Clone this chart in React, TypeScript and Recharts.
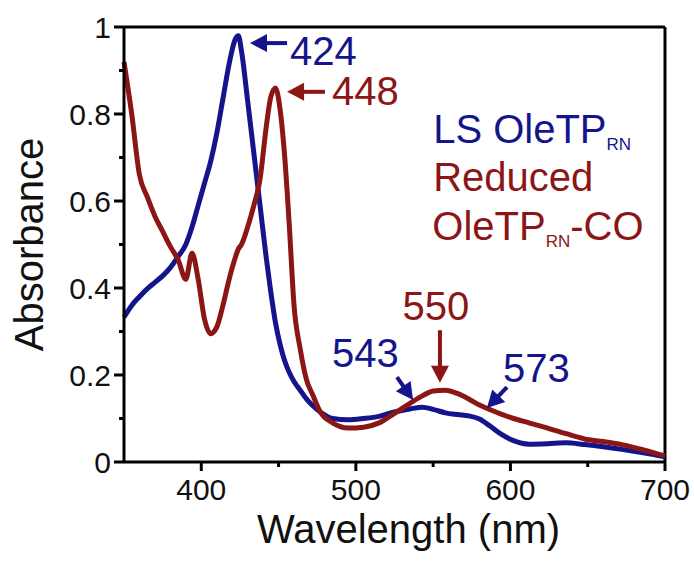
import { LineChart, Line, XAxis, YAxis, ReferenceLine, ReferenceDot } from "recharts";

const BLUE = "#14148c";
const RED = "#8c1616";
const FONT = "'Liberation Sans', Arial, sans-serif";

// wavelength grid (nm)
const wavelengths = [
  350, 355, 360, 365, 370, 375, 380, 385, 390, 394, 398, 402, 406, 410, 414, 418,
  422, 424, 426, 430, 434, 438, 442, 445, 448, 451, 454, 457, 460, 464, 468, 472,
  477, 485, 495, 505, 515, 525, 535, 543, 550, 558, 566, 573, 580, 587, 594, 602,
  612, 624, 636, 648, 660, 672, 686, 700,
];

// LS OleTP_RN
const lsOleTP = [
  0.333, 0.36, 0.38, 0.398, 0.413, 0.428, 0.447, 0.472, 0.5, 0.54, 0.59, 0.64, 0.69, 0.755, 0.835, 0.915,
  0.972, 0.98, 0.945, 0.83, 0.71, 0.59, 0.47, 0.39, 0.32, 0.27, 0.232, 0.205, 0.185, 0.165, 0.145, 0.13,
  0.115, 0.1, 0.097, 0.1, 0.105, 0.115, 0.122, 0.126, 0.121, 0.113, 0.109, 0.106, 0.099, 0.082, 0.064, 0.049,
  0.041, 0.042, 0.044, 0.04, 0.035, 0.029, 0.021, 0.012,
];

// Reduced OleTP_RN-CO
const reducedCO = [
  0.92, 0.8, 0.66, 0.61, 0.565, 0.53, 0.495, 0.465, 0.42, 0.48, 0.42, 0.33, 0.295, 0.31, 0.36, 0.42,
  0.47, 0.49, 0.5, 0.54, 0.59, 0.65, 0.77, 0.84, 0.86, 0.81, 0.7, 0.54, 0.36, 0.26, 0.19, 0.155,
  0.115, 0.09, 0.078, 0.08, 0.09, 0.112, 0.135, 0.152, 0.163, 0.165, 0.157, 0.145, 0.131, 0.12, 0.11, 0.1,
  0.09, 0.078, 0.065, 0.053, 0.047, 0.04, 0.028, 0.014,
];

const xTicks = [400, 450, 500, 550, 600, 650, 700];
const yTicks = [0, 0.1, 0.2, 0.3, 0.4, 0.5, 0.6, 0.7, 0.8, 0.9, 1];

// peak labels, in data coordinates
const peakLabels = [
  { text: "424", x: 457.4, y: 0.913, color: BLUE, anchor: "start" },
  { text: "448", x: 484.6, y: 0.821, color: RED, anchor: "start" },
  { text: "543", x: 484.6, y: 0.218, color: BLUE, anchor: "start" },
  { text: "550", x: 551.8, y: 0.326, color: RED, anchor: "middle" },
  { text: "573", x: 595.2, y: 0.184, color: BLUE, anchor: "start" },
];

// arrows: tail -> head
const arrows = [
  { from: [455.5, 0.963], to: [431.5, 0.963], color: BLUE },
  { from: [480, 0.851], to: [455.5, 0.851], color: RED },
  { from: [526.6, 0.195], to: [537, 0.1425], color: BLUE },
  { from: [554.4, 0.303], to: [554.4, 0.182], color: RED },
  { from: [597.8, 0.172], to: [584.8, 0.124], color: BLUE },
];

const chartData = wavelengths.map((wl, i) => ({ wl, ls: lsOleTP[i], co: reducedCO[i] }));

const XTick = ({ x, y, payload }: any) => {
  const major = payload.value % 100 === 0;
  return (
    <g>
      <line x1={x} y1={y} x2={x} y2={y + (major ? 9 : 5)} stroke="#000" strokeWidth={3} />
      {major && (
        <text x={x} y={y + 38} textAnchor="middle" fontSize={30} fontFamily={FONT} fill="#111">
          {payload.value}
        </text>
      )}
    </g>
  );
};

const YTick = ({ x, y, payload }: any) => {
  const major = Math.round(payload.value * 10) % 2 === 0;
  return (
    <g>
      <line x1={x - (major ? 10 : 5)} y1={y} x2={x} y2={y} stroke="#000" strokeWidth={3} />
      {major && (
        <text x={x - 13} y={y + 10.5} textAnchor="end" fontSize={30} fontFamily={FONT} fill="#111">
          {payload.value}
        </text>
      )}
    </g>
  );
};

const XTitle = ({ viewBox }: any) => (
  <text
    x={viewBox.x + viewBox.width / 2 + 14}
    y={viewBox.y + 81}
    textAnchor="middle"
    fontSize={40}
    fontFamily={FONT}
    fill="#111"
  >
    Wavelength (nm)
  </text>
);

const YTitle = ({ viewBox }: any) => {
  const cx = 43;
  const cy = viewBox.y + viewBox.height / 2;
  return (
    <text
      x={cx}
      y={cy}
      transform={`rotate(-90, ${cx}, ${cy})`}
      textAnchor="middle"
      fontSize={40}
      fontFamily={FONT}
      fill="#111"
    >
      Absorbance
    </text>
  );
};

const arrowShape = (p: any, color: string) => {
  const { x1, y1, x2, y2 } = p;
  const dx = x2 - x1;
  const dy = y2 - y1;
  const len = Math.hypot(dx, dy) || 1;
  const ux = dx / len;
  const uy = dy / len;
  const head = 17;
  const half = 9;
  const bx = x2 - ux * head;
  const by = y2 - uy * head;
  const pts = `${x2},${y2} ${bx - uy * half},${by + ux * half} ${bx + uy * half},${by - ux * half}`;
  return (
    <g>
      <line x1={x1} y1={y1} x2={bx + ux * 2} y2={by + uy * 2} stroke={color} strokeWidth={4} />
      <polygon points={pts} fill={color} />
    </g>
  );
};

export default function App() {
  return (
    <div style={{ position: "absolute", left: 0, top: 0, background: "#fff" }}>
      <LineChart
        width={694}
        height={563}
        data={chartData}
        margin={{ top: 27, right: 29, bottom: 0, left: 0 }}
      >
        <XAxis
          dataKey="wl"
          type="number"
          domain={[350, 700]}
          ticks={xTicks}
          interval={0}
          tickLine={false}
          tickSize={0}
          tickMargin={0}
          height={101}
          axisLine={{ stroke: "#000", strokeWidth: 3 }}
          tick={XTick}
          label={{ content: XTitle }}
        />
        <YAxis
          type="number"
          domain={[0, 1]}
          ticks={yTicks}
          interval={0}
          tickLine={false}
          tickSize={0}
          tickMargin={0}
          width={124}
          axisLine={{ stroke: "#000", strokeWidth: 3 }}
          tick={YTick}
          label={{ content: YTitle }}
        />
        <ReferenceLine y={1} stroke="#000" strokeWidth={3} />
        <ReferenceLine x={700} stroke="#000" strokeWidth={3} />
        <Line
          type="monotone"
          dataKey="ls"
          stroke={BLUE}
          strokeWidth={5}
          dot={false}
          activeDot={false}
          isAnimationActive={false}
        />
        <Line
          type="monotone"
          dataKey="co"
          stroke={RED}
          strokeWidth={5}
          dot={false}
          activeDot={false}
          isAnimationActive={false}
        />
        {arrows.map((a, i) => (
          <ReferenceLine
            key={`arrow-${i}`}
            segment={[
              { x: a.from[0], y: a.from[1] },
              { x: a.to[0], y: a.to[1] },
            ]}
            shape={(p: any) => arrowShape(p, a.color)}
          />
        ))}
        {peakLabels.map((l) => (
          <ReferenceDot
            key={l.text}
            x={l.x}
            y={l.y}
            r={0}
            shape={(p: any) => (
              <text
                x={p.cx}
                y={p.cy}
                textAnchor={l.anchor as any}
                fontSize={40}
                fontFamily={FONT}
                fill={l.color}
              >
                {l.text}
              </text>
            )}
          />
        ))}
        <ReferenceDot
          x={550}
          y={0.7333}
          r={0}
          shape={(p: any) => (
            <text x={p.cx} y={p.cy} fontSize={40} fontFamily={FONT} fill={BLUE}>
              LS OleTP
              <tspan fontSize={17} dy={7}>RN</tspan>
            </text>
          )}
        />
        <ReferenceDot
          x={550}
          y={0.623}
          r={0}
          shape={(p: any) => (
            <text x={p.cx} y={p.cy} fontSize={40} fontFamily={FONT} fill={RED}>
              Reduced
            </text>
          )}
        />
        <ReferenceDot
          x={549.5}
          y={0.5103}
          r={0}
          shape={(p: any) => (
            <text x={p.cx} y={p.cy} fontSize={40} fontFamily={FONT} fill={RED}>
              OleTP
              <tspan fontSize={17} dy={7}>RN</tspan>
              <tspan dy={-7}>-CO</tspan>
            </text>
          )}
        />
      </LineChart>
    </div>
  );
}
